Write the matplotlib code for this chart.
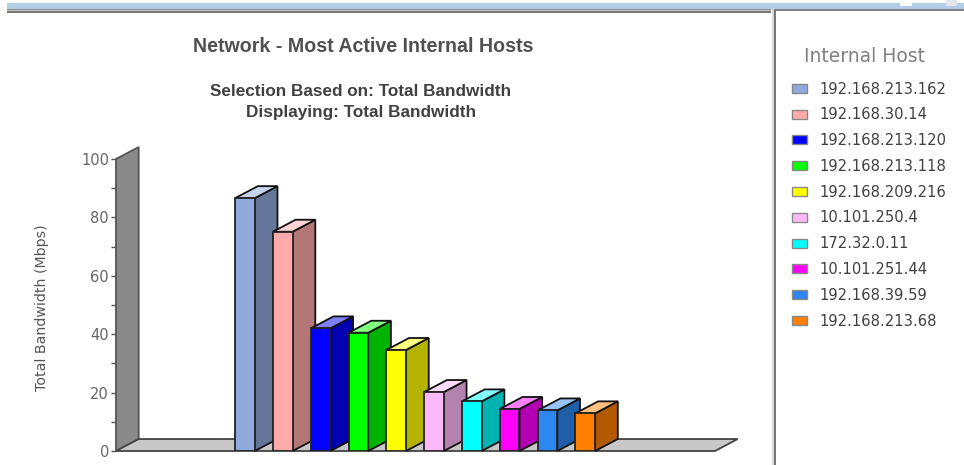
import matplotlib
matplotlib.use('Agg')
import matplotlib.pyplot as plt
from matplotlib.colors import to_rgb
from matplotlib.patches import Patch, Polygon, Rectangle
from matplotlib.ticker import MultipleLocator

W, H = 964, 465

hosts = ['192.168.213.162', '192.168.30.14', '192.168.213.120', '192.168.213.118',
         '192.168.209.216', '10.101.250.4', '172.32.0.11', '10.101.251.44',
         '192.168.39.59', '192.168.213.68']
bandwidth = [86.6, 75.1, 42.0, 40.5, 34.6, 20.2, 17.0, 14.4, 13.9, 12.9]
colors = ['#8faadc', '#ffaaaa', '#0000ff', '#00ff00', '#ffff00',
          '#ffb9fa', '#00ffff', '#ff00ff', '#2e86f0', '#ff8000']

# fake 3d depth, in data units
DX = 0.6
DY = 4.1
BAR_W = 0.52


def side_col(c):
    return tuple(v * 0.7 for v in to_rgb(c))


def top_col(c):
    return tuple(v + (1 - v) * 0.5 for v in to_rgb(c))


def rect_px(x, y, w, h, color):
    # window chrome, y counted from the top of the picture
    fig.add_artist(Rectangle((x / W, 1 - (y + h) / H), w / W, h / H, color=color,
                             lw=0, transform=fig.transFigure))


fig = plt.figure(figsize=(W / 100, H / 100), dpi=100, facecolor='white')

# window chrome
rect_px(7, 3, 957, 6, '#b3cde8')
rect_px(7, 9, 764, 1.5, '#8c8c8c')
rect_px(7, 10.5, 764, 1, '#c4c4c4')
rect_px(7, 11.5, 764, 1.5, '#777777')
rect_px(776, 9, 188, 2.5, '#808080')
rect_px(772, 9, 1.5, 456, '#d8d8d8')
rect_px(773.5, 9, 2.5, 456, '#777777')
rect_px(900, 0, 12, 6, '#ffffff')
rect_px(946, 0, 11, 6, '#dfe6ee')

ax = fig.add_axes([116 / W, 1 - 451 / H, 599 / W, 292 / H])
x0, x1 = -3.41, 12.43
ax.set_xlim(x0, x1)
ax.set_ylim(0, 100)
for s in ax.spines.values():
    s.set_visible(False)
ax.patch.set_visible(False)

# wall and floor
ax.add_patch(Polygon([(x0, 0), (x0 + DX, DY), (x0 + DX, 100 + DY), (x0, 100)],
                     fc='#8a8a8a', ec='#555555', lw=1.3, clip_on=False, zorder=1))
ax.add_patch(Polygon([(x0, 0), (x1, 0), (x1 + DX, DY), (x0 + DX, DY)],
                     fc='#c8c8c8', ec='#444444', lw=1.3, clip_on=False, zorder=1))

for i, (v, c) in enumerate(zip(bandwidth, colors)):
    z = 2 + i
    left = i - BAR_W / 2
    right = i + BAR_W / 2
    ax.add_patch(Polygon([(right, 0), (right + DX, DY), (right + DX, v + DY), (right, v)],
                         fc=side_col(c), ec='#111111', lw=1.3, clip_on=False, zorder=z))
    ax.add_patch(Polygon([(left, v), (right, v), (right + DX, v + DY), (left + DX, v + DY)],
                         fc=top_col(c), ec='#111111', lw=1.3, clip_on=False, zorder=z))
    ax.bar(i, v, width=BAR_W, color=c, edgecolor='#222222', linewidth=1.3, zorder=z)

ax.set_xticks([])
ax.yaxis.set_major_locator(MultipleLocator(20))
ax.yaxis.set_minor_locator(MultipleLocator(10))
ax.tick_params(axis='y', which='both', length=3.5, width=1, color='#555555',
               labelcolor='#666666', labelsize=10.5, pad=1.5)
ax.set_ylabel('Total Bandwidth (Mbps)', fontsize=10.2, color='#555555', family='DejaVu Sans')
ax.yaxis.set_label_coords(49 / W, 1 - 308 / H, transform=fig.transFigure)

fig.text(363.5 / W, 1 - 46 / H, 'Network - Most Active Internal Hosts', ha='center', va='center',
         family='Liberation Sans', weight='bold', fontsize=14.1, color='#505050')
fig.text(361 / W, 1 - 91 / H, 'Selection Based on: Total Bandwidth', ha='center', va='center',
         family='Liberation Sans', weight='bold', fontsize=12.3, color='#404040')
fig.text(361 / W, 1 - 112 / H, 'Displaying: Total Bandwidth', ha='center', va='center',
         family='Liberation Sans', weight='bold', fontsize=12.3, color='#404040')

fig.text(864 / W, 1 - 56.5 / H, 'Internal Host', ha='center', va='center',
         fontsize=13.5, color='#808080')

handles = [Patch(fc=c, ec='#888888', lw=1) for c in colors]
leg = fig.legend(handles, hosts, loc='upper left', bbox_to_anchor=(792 / W, 1 - 81.5 / H),
                 frameon=False, fontsize=10.65, handlelength=1.03, handleheight=0.55,
                 handletextpad=0.85, labelspacing=0.73, borderpad=0, borderaxespad=0)
for t in leg.get_texts():
    t.set_color('#404040')

fig.savefig('out.png', dpi=100)
